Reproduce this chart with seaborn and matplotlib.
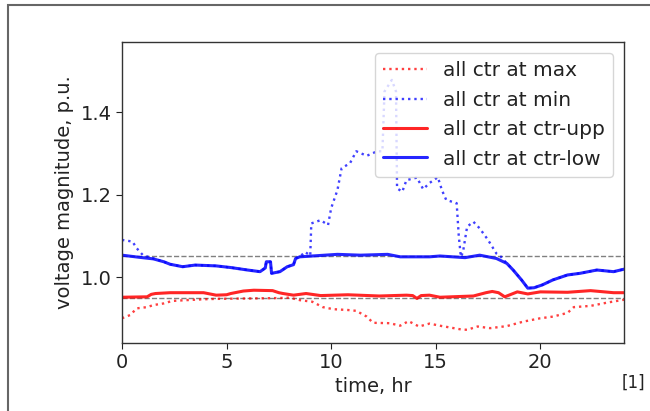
import matplotlib
matplotlib.use("Agg")
import matplotlib.pyplot as plt
import seaborn as sns
from matplotlib.patches import Rectangle

# ---- data ----
t_max = [0, 0.4, 0.7, 1.2, 1.5, 2.0, 2.4, 3.1, 3.9, 4.5, 6.0, 7.5, 8.0, 8.5, 9.1, 9.6,
         10.1, 10.8, 11.2, 11.7, 12.0, 12.8, 13.3, 13.7, 14.2, 14.7, 15.3, 16.2, 16.5,
         17.0, 17.6, 18.4, 19.2, 20.0, 20.6, 21.3, 21.6, 22.4, 23.2, 24.0]
v_max = [0.900, 0.908, 0.924, 0.927, 0.932, 0.936, 0.942, 0.944, 0.946, 0.947, 0.948,
         0.949, 0.950, 0.944, 0.940, 0.927, 0.922, 0.920, 0.918, 0.904, 0.889, 0.888,
         0.882, 0.893, 0.880, 0.887, 0.881, 0.873, 0.872, 0.880, 0.876, 0.881, 0.892,
         0.900, 0.904, 0.913, 0.927, 0.930, 0.938, 0.945]

t_min = [0, 0.5, 0.7, 1.0, 1.5, 2.0, 2.3, 2.9, 3.5, 4.5, 5.2, 6.0, 6.6, 6.85, 6.9, 7.1,
         7.15, 7.55, 7.9, 8.2, 8.3, 8.5, 8.75, 9.0, 9.05, 9.5, 9.85, 10.0, 10.3, 10.5,
         10.9, 11.2, 11.7, 12.2, 12.45, 12.55, 12.9, 13.1, 13.15, 13.4, 13.6, 14.1, 14.4,
         14.7, 15.1, 15.3, 15.5, 16.0, 16.1, 16.2, 16.3, 16.5, 16.8, 17.1, 17.5, 17.9,
         18.1, 18.4, 18.7, 19.1, 19.4, 19.7, 20.1, 20.6, 21.3, 21.9, 22.7, 23.5, 24.0]
v_min = [1.090, 1.086, 1.070, 1.053, 1.045, 1.037, 1.031, 1.025, 1.029, 1.027, 1.023,
         1.017, 1.013, 1.022, 1.037, 1.037, 1.009, 1.013, 1.025, 1.030, 1.045, 1.049,
         1.061, 1.052, 1.130, 1.138, 1.126, 1.167, 1.211, 1.264, 1.276, 1.305, 1.294,
         1.305, 1.305, 1.450, 1.478, 1.450, 1.215, 1.207, 1.235, 1.241, 1.213, 1.228,
         1.242, 1.210, 1.187, 1.179, 1.100, 1.049, 1.060, 1.122, 1.134, 1.118, 1.090,
         1.057, 1.050, 1.033, 1.017, 0.993, 0.973, 0.974, 0.981, 0.993, 1.005, 1.009,
         1.017, 1.013, 1.019]

t_upp = [0, 1.2, 1.4, 1.6, 2.3, 3.9, 4.3, 4.5, 5.0, 5.2, 5.8, 6.3, 7.2, 7.5, 7.7, 8.2,
         8.8, 9.5, 10.8, 12.3, 13.6, 13.9, 14.1, 14.3, 14.7, 15.2, 16.8, 17.4, 17.7,
         18.0, 18.3, 18.9, 19.4, 20.0, 21.3, 22.4, 23.5, 24.0]
v_upp = [0.951, 0.952, 0.958, 0.960, 0.962, 0.962, 0.958, 0.956, 0.957, 0.960, 0.966,
         0.968, 0.967, 0.962, 0.960, 0.956, 0.960, 0.955, 0.957, 0.954, 0.956, 0.955,
         0.948, 0.955, 0.956, 0.951, 0.954, 0.962, 0.965, 0.962, 0.952, 0.964, 0.959,
         0.964, 0.963, 0.967, 0.962, 0.962]

t_low = [0, 0.8, 1.5, 2.0, 2.3, 2.9, 3.5, 4.5, 5.2, 6.0, 6.6, 6.85, 6.9, 7.1, 7.15,
         7.55, 7.9, 8.2, 8.3, 8.5, 10.3, 11.4, 12.7, 13.3, 14.7, 15.2, 16.4, 17.1, 17.9,
         18.4, 18.7, 19.1, 19.4, 19.7, 20.1, 20.6, 21.3, 21.9, 22.7, 23.5, 24.0]
v_low = [1.053, 1.048, 1.044, 1.037, 1.031, 1.025, 1.029, 1.027, 1.023, 1.017, 1.013,
         1.022, 1.037, 1.037, 1.009, 1.013, 1.025, 1.030, 1.045, 1.049, 1.055, 1.053,
         1.055, 1.049, 1.049, 1.051, 1.047, 1.053, 1.045, 1.033, 1.017, 0.993, 0.973,
         0.974, 0.981, 0.993, 1.005, 1.009, 1.017, 1.013, 1.019]

limits = [1.05, 0.95]
labels = ["all ctr at max", "all ctr at min", "all ctr at ctr-upp", "all ctr at ctr-low"]
x_ticks = [0, 5, 10, 15, 20]
y_ticks = [1.0, 1.2, 1.4]

# ---- plot ----
sns.set_theme(style="ticks")
plt.rcParams["font.family"] = ["DejaVu Sans"]
FS = 14

fig = plt.figure(figsize=(6.5, 4.11), dpi=100)
ax = fig.add_axes([122/650, 1-343/411, (624-122)/650, (343-42)/411])

for lv in limits:
    ax.axhline(lv, color="gray", ls="--", lw=1.0)

sns.lineplot(x=t_max, y=v_max, ax=ax, color="red", ls=":", lw=1.7, alpha=0.75,
             label=labels[0], sort=False)
sns.lineplot(x=t_min, y=v_min, ax=ax, color="blue", ls=":", lw=1.7, alpha=0.75,
             label=labels[1], sort=False)
sns.lineplot(x=t_upp, y=v_upp, ax=ax, color="red", lw=2.2, alpha=0.85,
             label=labels[2], sort=False)
sns.lineplot(x=t_low, y=v_low, ax=ax, color="blue", lw=2.2, alpha=0.85,
             label=labels[3], sort=False)

ax.set_xlim(0, 24)
ax.set_ylim(0.84, 1.57)
ax.set_xticks(x_ticks)
ax.set_yticks(y_ticks)
ax.set_xticklabels([str(v) for v in x_ticks])
ax.set_yticklabels([f"{v:.1f}" for v in y_ticks])
ax.tick_params(labelsize=FS, colors="#222222", length=4, width=0.8)
for s in ax.spines.values():
    s.set_color("#333333")
    s.set_linewidth(1.0)
ax.set_xlabel("time, hr", fontsize=FS, color="#222222", labelpad=3)
ax.set_ylabel("voltage magnitude, p.u.", fontsize=FS, color="#222222", labelpad=5)

leg = ax.legend(loc="upper right", fontsize=FS + 0.5, framealpha=0.8, borderaxespad=0.55,
                handlelength=2.2, labelspacing=0.52)
for txt in leg.get_texts():
    txt.set_color("#222222")

# outer screenshot frame and reference tag
fig.patches.append(Rectangle((8/650, -0.2), 1.2, 1.2 - 5/411, transform=fig.transFigure,
                             fill=False, edgecolor="#666666", lw=1.5))
fig.text(633/650, 1-383/411, "[1]", fontsize=12, ha="center", va="center", color="#222222")

fig.savefig("out.png", dpi=100)
